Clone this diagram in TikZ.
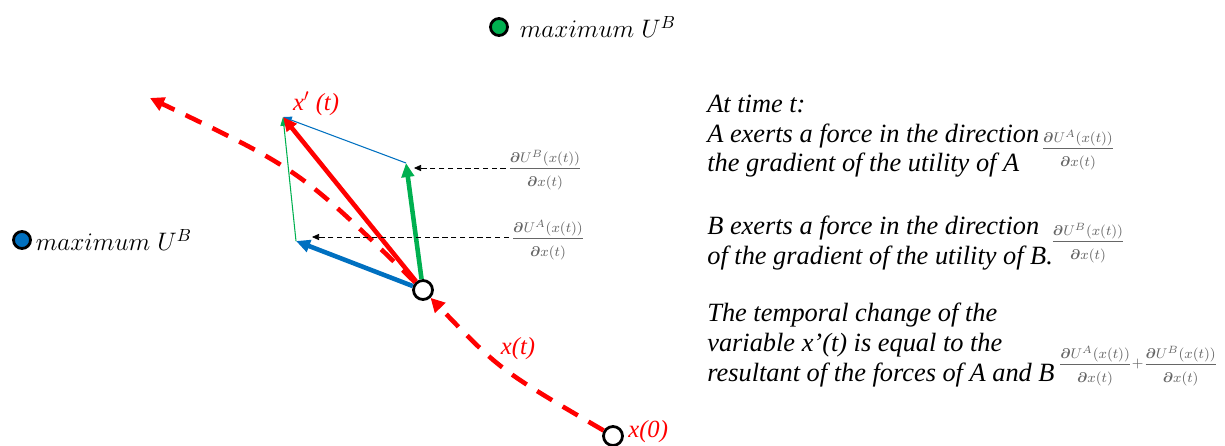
\documentclass[tikz,border=0pt]{standalone}
\usepackage{amsmath}
\usepackage{fontspec}
\setmainfont{Liberation Serif}
\usepackage{tikz}
\usetikzlibrary{arrows.meta,positioning}
\definecolor{offgreen}{RGB}{0,176,80}
\definecolor{offblue}{RGB}{0,112,192}
\newcommand{\gradof}[1]{$\displaystyle\frac{\boldsymbol{\partial} U^{#1}(x(t))\rule[-2pt]{0pt}{8pt}}{\boldsymbol{\partial} x(t)\rule{0pt}{9pt}}$}
\tikzset{
  dot/.style={circle, draw=black, line width=1.6pt, minimum size=0.34cm, inner sep=0pt},
  state/.style={circle, draw=black, fill=white, line width=1.6pt, minimum size=0.38cm, inner sep=0pt},
  traj/.style={red, line width=2.6pt, dash pattern=on 10pt off 7pt, -{Triangle[length=8pt,width=8pt]}},
  force/.style={line width=2.6pt, -{Triangle[length=8pt,width=7pt]}},
  side/.style={line width=0.6pt, -{Triangle[length=5pt,width=4pt]}},
  pointer/.style={densely dashed, line width=0.4pt, -{Triangle[length=4pt,width=3.5pt]}},
  grad/.style={text=black!60, font=\fontsize{8.5}{10}\selectfont, inner sep=1pt},
  note/.style={font=\fontsize{15}{17}\selectfont\itshape, align=left, inner sep=0pt, anchor=base west},
  lbl/.style={red, font=\fontsize{14}{16}\selectfont\itshape, inner sep=0pt},
  maxlbl/.style={font=\fontsize{14}{16}\selectfont, inner sep=0pt},
}
\begin{document}
\begin{tikzpicture}[x=0.02cm, y=-0.02cm]
  \useasboundingbox (0,0) rectangle (1225,446);
  % maxima
  \node[dot, fill=offgreen] (gdot) at (499,27) {};
  \node[maxlbl, right=6pt of gdot] (gmax) {$maximum\;U^B$};
  \node[dot, fill=offblue] (bdot) at (22,240) {};
  \node[maxlbl, right=2pt of bdot] (bmax) {$maximum\;U^B$};
  % states
  \node[state] (xzero) at (613,436) {};
  \node[state] (xt) at (423,290) {};
  \coordinate (far) at (150,98);
  % trajectory
  \draw[traj] (xzero) .. controls (500,370) .. (xt);
  \draw[traj] (xt) .. controls (300,170) .. (far);
  \node[lbl, anchor=west] (xzerolbl) at (628,432) {x(0)};
  \node[lbl] (xtlbl) at (518,349) {x(t)};
  % parallelogram of forces
  \coordinate (tipR) at (283,117);
  \coordinate (tipG) at (406,163);
  \coordinate (tipB) at (296,241);
  \draw[side, offgreen] (tipB) -- (tipR);
  \draw[side, offblue] (tipG) -- (tipR);
  \draw[force, offblue] (xt) -- (tipB);
  \draw[force, offgreen] (xt) -- (tipG);
  \draw[force, red] (xt) -- (tipR);
  \node[lbl] (xplbl) at (316,104) {x$'$ (t)};
  % gradient labels
  \node[grad] (fracB) at (545,170) {\gradof{B}};
  \node[grad] (fracA) at (548,240) {\gradof{A}};
  \coordinate (ptG) at (414,168);
  \coordinate (ptB) at (312,237);
  \draw[pointer] (fracB.west |- ptG) -- (ptG);
  \draw[pointer] (fracA.west |- ptB) -- (ptB);
  % explanation
  \node[note] (ntime) at (707,172) {At time t:\\A exerts a force in the direction\\the gradient of the utility of A};
  \node[grad] (gA) at (1078,150) {\gradof{A}};
  \node[note] (nB) at (707,264) {B exerts a force in the direction\\of the gradient of the utility of B.};
  \node[grad] (gB) at (1088,243) {\gradof{B}};
  \node[note] (nsum) at (707,381) {The temporal change of the\\variable x’(t) is equal to the\\resultant of the forces of A and B};
  \node[grad] (gsum) at (1138,366) {\gradof{A}$+$\gradof{B}};
\end{tikzpicture}
\end{document}
